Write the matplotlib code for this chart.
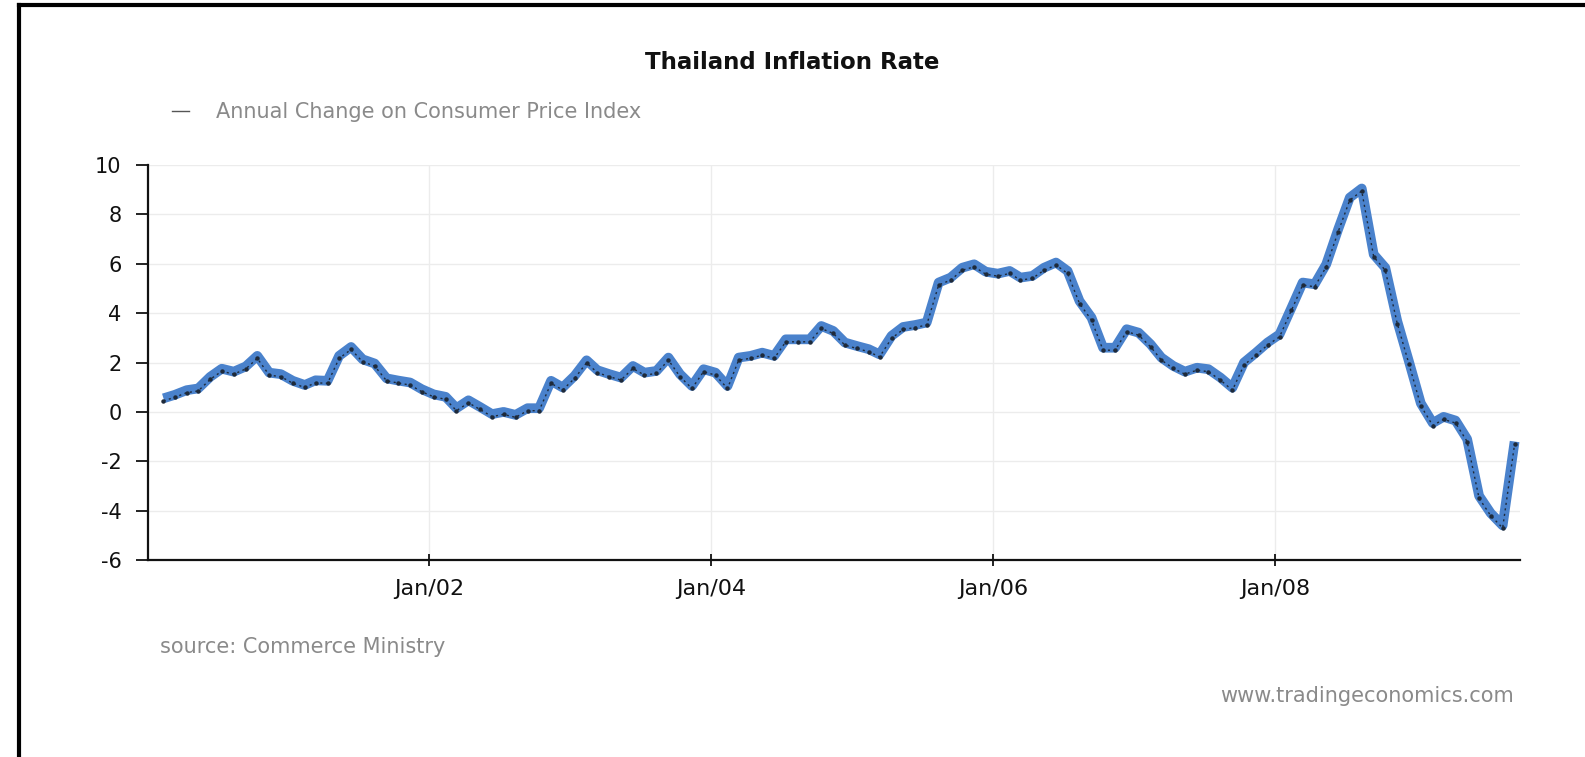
import matplotlib
matplotlib.use('Agg')
import matplotlib.pyplot as plt
import matplotlib.dates as mdates
import matplotlib.transforms as mtransforms
from matplotlib.lines import Line2D
import pandas as pd

# Годовое изменение ИПЦ, помесячно (точки графика начиная с фев 2000)
start_month = '2000-02-01'
inflation = [
    0.55, 0.69, 0.88, 0.95, 1.42, 1.75, 1.63, 1.84, 2.27, 1.59, 1.53, 1.26,
    1.09, 1.28, 1.26, 2.27, 2.63, 2.13, 1.96, 1.36, 1.27, 1.19, 0.92, 0.71,
    0.61, 0.15, 0.47, 0.20, -0.09, 0.00, -0.12, 0.15, 0.15, 1.26, 0.99, 1.46,
    2.09, 1.69, 1.53, 1.39, 1.86, 1.59, 1.66, 2.20, 1.53, 1.05, 1.73, 1.59,
    1.05, 2.20, 2.27, 2.40, 2.27, 2.94, 2.94, 2.94, 3.48, 3.28, 2.81, 2.67,
    2.54, 2.33, 3.08, 3.44, 3.52, 3.62, 5.24, 5.44, 5.84, 5.98, 5.68, 5.60,
    5.71, 5.44, 5.51, 5.84, 6.05, 5.71, 4.49, 3.82, 2.60, 2.60, 3.35, 3.21,
    2.74, 2.20, 1.86, 1.63, 1.79, 1.73, 1.39, 0.98, 2.00, 2.40, 2.81, 3.14,
    4.22, 5.24, 5.17, 5.98, 7.40, 8.68, 9.05, 6.38, 5.84, 3.68, 2.06, 0.35,
    -0.45, -0.20, -0.35, -1.10, -3.40, -4.10, -4.60, -1.20,
]
y_ticks = [-6, -4, -2, 0, 2, 4, 6, 8, 10]

dates = pd.date_range(start_month, periods=len(inflation), freq='MS') + pd.Timedelta(days=11)

plt.rcParams['font.family'] = ['DejaVu Sans']
plt.rcParams['axes.unicode_minus'] = False

fig = plt.figure(figsize=(15.85, 7.57), dpi=100)
ax = fig.add_axes([0.0934, 0.2602, 0.8656, 0.5218])

# толстая синяя линия + тонкая чёрная пунктирная поверх
ax.plot(dates, inflation, color='#4a82cc', linewidth=7, solid_joinstyle='round',
        solid_capstyle='butt', zorder=3)
shift = mtransforms.offset_copy(ax.transData, fig=fig, x=0, y=-1.8, units='points')
ax.plot(dates, inflation, color='#1e2a3a', linewidth=1.0, linestyle=(0, (1.5, 2.5)),
        marker='o', markersize=2.2, transform=shift, zorder=4)

ax.set_ylim(-6, 10)
ax.set_xlim(pd.Timestamp('2000-01-03'), pd.Timestamp('2009-09-26'))
ax.set_yticks(y_ticks)
ax.xaxis.set_major_locator(mdates.YearLocator(base=2, month=1, day=1))
ax.xaxis.set_major_formatter(mdates.DateFormatter('%b/%y'))

ax.grid(True, color='#ececec', linewidth=1.0)
ax.set_axisbelow(True)
for side in ['top', 'right']:
    ax.spines[side].set_visible(False)
for side in ['left', 'bottom']:
    ax.spines[side].set_linewidth(1.6)
    ax.spines[side].set_color('#111111')

ax.tick_params(axis='y', length=9, width=1.3, labelsize=15, colors='#111111', pad=10)
ax.tick_params(axis='x', direction='inout', length=9, width=1.3, labelsize=16,
               colors='#111111', pad=9)

fig.text(0.5, 0.917, 'Thailand Inflation Rate', ha='center', va='center',
         fontsize=16.5, fontweight='bold', color='#111111')

# легенда в виде строки
fig.legend(handles=[Line2D([], [], color='#555555', linewidth=1.0)],
           labels=['Annual Change on Consumer Price Index'],
           loc='center left', bbox_to_anchor=(0.097, 0.852), frameon=False,
           handlelength=0.8, handletextpad=1.3, fontsize=15, labelcolor='#8a8a8a')

fig.text(0.101, 0.145, 'source: Commerce Ministry', ha='left', va='center',
         fontsize=15, color='#8a8a8a')
fig.text(0.955, 0.081, 'www.tradingeconomics.com', ha='right', va='center',
         fontsize=15, color='#8a8a8a')

# рамка слева и сверху
fig.add_artist(Line2D([0.0121, 0.0121], [0, 0.994], transform=fig.transFigure,
                      color='black', linewidth=3))
fig.add_artist(Line2D([0.0121, 1.0], [0.994, 0.994], transform=fig.transFigure,
                      color='black', linewidth=3))

fig.savefig('out.png', dpi=100)
